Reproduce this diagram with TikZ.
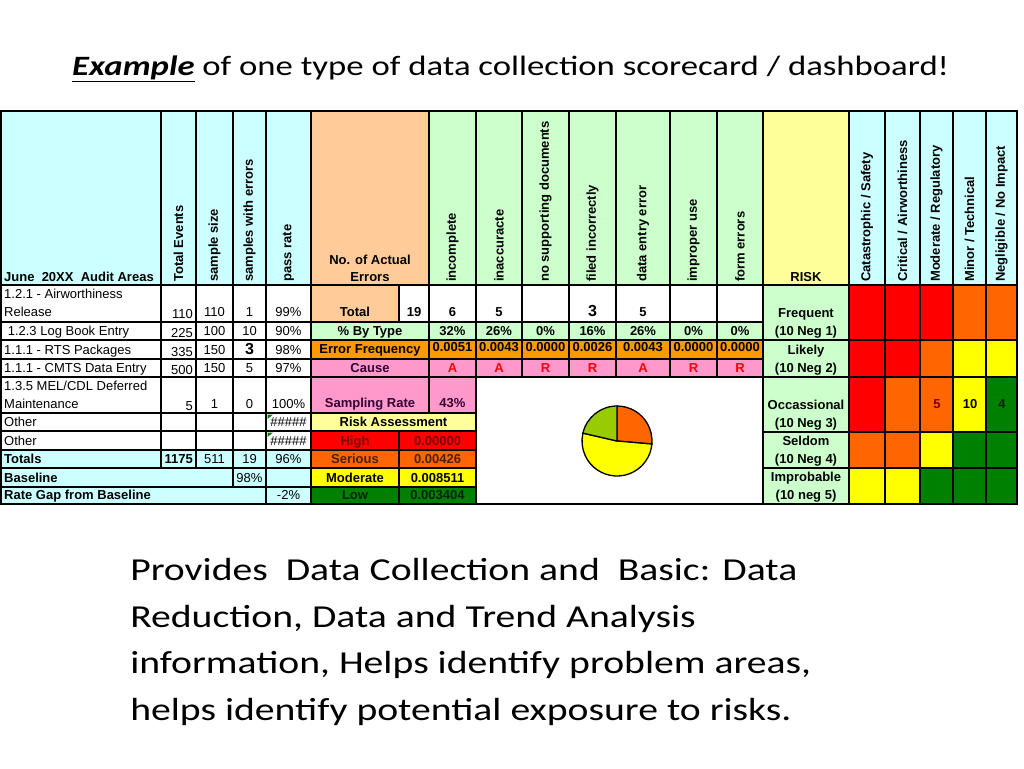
\documentclass[tikz,border=0pt]{standalone}
\usepackage{fontspec}
\setmainfont{Carlito}
\newfontfamily\xlfont{Liberation Sans}
\usetikzlibrary{positioning,calc}

\definecolor{hdrcyan}{HTML}{CCFFFF}
\definecolor{errpeach}{HTML}{FFCC99}
\definecolor{typegreen}{HTML}{CCFFCC}
\definecolor{riskyellow}{HTML}{FFFF99}
\definecolor{freqorange}{HTML}{FF9900}
\definecolor{causepink}{HTML}{FF99CC}
\definecolor{hired}{HTML}{FF0000}
\definecolor{serorange}{HTML}{FF6600}
\definecolor{modyellow}{HTML}{FFFF00}
\definecolor{lowgreen}{HTML}{008000}
\definecolor{piegreen}{HTML}{99CC00}
\definecolor{hitext}{HTML}{7A0000}
\definecolor{sertext}{HTML}{4A2000}
\definecolor{lowtext}{HTML}{002200}
\definecolor{causetext}{HTML}{330033}

\newcommand\bigthree{{\fontsize{16}{16}\selectfont\bfseries 3}}

\begin{document}
\begin{tikzpicture}[x=1pt, y=-1pt,
  cellline/.style={draw=black, line width=1.3pt},
  celltxt/.style={font=\xlfont\fontsize{13}{15}\selectfont, inner sep=0pt},
  cellbold/.style={font=\xlfont\bfseries\fontsize{13}{15}\selectfont, inner sep=0pt},
  vhead/.style={cellbold, rotate=90, anchor=west},
  slide/.style={font=\fontsize{32}{46}\selectfont, inner sep=0pt, anchor=base west, xscale=1.24}]
  \useasboundingbox (0,0) rectangle (1024,768);

  % Title
  \node[inner sep=0pt, anchor=base west, xscale=1.24, font=\fontsize{28}{32}\selectfont] (title) at (72,75)
      {\underline{\textbf{\textit{Example}}} of one type of data collection scorecard / dashboard!};

  % Fills of the colour blocks
  \fill[hdrcyan] (1,111) rectangle (311,285);
  \fill[hdrcyan] (1,450) rectangle (311,504);
  \fill[errpeach] (311,111) rectangle (429,285);
  \fill[typegreen] (429,111) rectangle (763,285);
  \fill[riskyellow] (763,111) rectangle (849,285);
  \fill[hdrcyan] (849,111) rectangle (1017,285);
  \fill[errpeach] (311,285) rectangle (399,322);
  \fill[typegreen] (311,322) rectangle (763,340);
  \fill[freqorange] (311,340) rectangle (763,359);
  \fill[causepink] (311,359) rectangle (763,377);
  \fill[causepink] (311,377) rectangle (476,413);
  \fill[riskyellow] (311,413) rectangle (476,431);
  \fill[typegreen] (763,285) rectangle (849,504);

  % Header grid
  \foreach \a/\b in {1/161,161/196,196/233,233/266,266/311,311/429,429/476,476/522,522/569,
                     569/616,616/670,670/717,717/763,763/849,849/885,885/920,920/953,953/986,986/1017}
      \draw[cellline] (\a,111) rectangle (\b,285);

  % Left body grid
  \foreach \ya/\yb in {285/322,322/340,340/359,359/377,377/413,413/431,431/450,450/468}
      \foreach \a/\b in {1/161,161/196,196/233,233/266,266/311}
          \draw[cellline] (\a,\ya) rectangle (\b,\yb);
  \draw[cellline] (1,468) rectangle (233,487);
  \draw[cellline] (233,468) rectangle (266,487);
  \draw[cellline] (266,468) rectangle (311,487);
  \draw[cellline] (1,487) rectangle (266,504);
  \draw[cellline] (266,487) rectangle (311,504);
  \fill[lowgreen] (267.5,414.5) -- (273,414.5) -- (267.5,419) -- cycle;
  \fill[lowgreen] (267.5,432.5) -- (273,432.5) -- (267.5,437) -- cycle;

  % Middle grid
  \foreach \a/\b in {311/399,399/429,429/476,476/522,522/569,569/616,616/670,670/717,717/763}
      \draw[cellline] (\a,285) rectangle (\b,322);
  \foreach \ya/\yb in {322/340,340/359,359/377}
      \foreach \a/\b in {311/429,429/476,476/522,522/569,569/616,616/670,670/717,717/763}
          \draw[cellline] (\a,\ya) rectangle (\b,\yb);
  \draw[cellline] (311,377) rectangle (429,413);
  \draw[cellline] (429,377) rectangle (476,413);
  \draw[cellline] (311,413) rectangle (476,431);
  \draw[cellline] (476,377) rectangle (763,504);

  % Risk levels
  \foreach \ya/\yb/\col/\lab/\val/\tc [count=\i] in {431/450/hired/High/0.00000/hitext,
          450/468/serorange/Serious/0.00426/sertext, 468/487/modyellow/Moderate/0.008511/black,
          487/504/lowgreen/Low/0.003404/lowtext} {
      \filldraw[cellline, fill=\col] (311,\ya) rectangle (399,\yb);
      \filldraw[cellline, fill=\col] (399,\ya) rectangle (476,\yb);
      \node[cellbold, text=\tc, anchor=base] (lvl-\i) at (355,\yb-5) {\lab};
      \node[cellbold, text=\tc, anchor=base] (lvlval-\i) at (437.5,\yb-5) {\val};
  }

  % Risk matrix
  \foreach \ya/\yb/\ca/\cb/\cc/\cd/\ce/\top/\bot [count=\i] in {
          285/340/hired/hired/hired/serorange/serorange/Frequent/{(10 Neg 1)},
          340/377/hired/hired/serorange/modyellow/modyellow/Likely/{(10 Neg 2)},
          377/432/hired/serorange/serorange/modyellow/lowgreen/Occassional/{(10 Neg 3)},
          432/468/serorange/serorange/modyellow/lowgreen/lowgreen/Seldom/{(10 Neg 4)},
          468/504/modyellow/modyellow/lowgreen/lowgreen/lowgreen/Improbable/{(10 neg 5)}} {
      \draw[cellline] (763,\ya) rectangle (849,\yb);
      \filldraw[cellline, fill=\ca] (849,\ya) rectangle (885,\yb);
      \filldraw[cellline, fill=\cb] (885,\ya) rectangle (920,\yb);
      \filldraw[cellline, fill=\cc] (920,\ya) rectangle (953,\yb);
      \filldraw[cellline, fill=\cd] (953,\ya) rectangle (986,\yb);
      \filldraw[cellline, fill=\ce] (986,\ya) rectangle (1017,\yb);
      \node[cellbold, anchor=base] (freq-\i) at (806,\yb-23) {\top};
      \node[cellbold, anchor=base] (neg-\i) at (806,\yb-5) {\bot};
  }
  \node[cellbold, text=hitext, anchor=base] (hits-a) at (937,408) {5};
  \node[cellbold, anchor=base] (hits-b) at (970,408) {10};
  \node[cellbold, text=lowtext, anchor=base] (hits-c) at (1002,408) {4};

  % Outer frame
  \draw[line width=2pt] (1,111) rectangle (1017,504);

  % Header texts
  \node[cellbold, anchor=base west] (areas) at (4,281) {June\ \ 20XX\ \ Audit Areas};
  \foreach \x/\txt [count=\i] in {178.5/Total Events, 214.5/sample size, 249.5/samples with errors,
          288.5/pass rate, 452.5/incomplete, 499/inaccuracte, 545.5/no supporting documents,
          592.5/filed incorrectly, 643/data entry error, 693.5/improper use, 740/form errors,
          867/{Catastrophic / Safety}, 902.5/{Critical / Airworthiness}, 936.5/{Moderate / Regulatory},
          969.5/{Minor / Technical}, 1001.5/{Negligible / No Impact}}
      \node[vhead] (head-\i) at (\x,282) {\txt};
  \node[cellbold, anchor=base] (actual) at (370,264) {No. of Actual};
  \node[cellbold, anchor=base] (errors) at (370,281) {Errors};
  \node[cellbold, anchor=base] (risk) at (806,281) {RISK};

  % Audit area rows
  \node[celltxt, anchor=base west] (lab-top1) at (4,298) {1.2.1 - Airworthiness};
  \node[celltxt, anchor=base west] (lab-top5) at (4,390) {1.3.5 MEL/CDL Deferred};
  \foreach \yb/\lab/\te/\ss/\se/\pr [count=\i] in {316/Release/110/110/1/99\%,
          335/{\ 1.2.3 Log Book Entry}/225/100/10/90\%,
          354/{1.1.1 - RTS Packages}/335/150/{\bigthree}/98\%,
          372/{1.1.1 - CMTS Data Entry}/500/150/5/97\%,
          408/Maintenance/5/1/0/100\%,
          426/Other/{}/{}/{}/\#\#\#\#\#,
          445/Other/{}/{}/{}/\#\#\#\#\#} {
      \node[celltxt, anchor=base west] (lab-\i) at (4,\yb) {\lab};
      \node[celltxt, anchor=base east] (te-\i) at (193,\yb+2) {\te};
      \node[celltxt, anchor=base] (ss-\i) at (214.5,\yb) {\ss};
      \node[celltxt, anchor=base] (se-\i) at (249.5,\yb) {\se};
      \node[celltxt, anchor=base] (pr-\i) at (288.5,\yb) {\pr};
  }
  \node[cellbold, anchor=base west] (totals) at (4,463) {Totals};
  \node[cellbold, anchor=base east] (te-sum) at (193,463) {1175};
  \node[celltxt, anchor=base] (ss-sum) at (214.5,463) {511};
  \node[celltxt, anchor=base] (se-sum) at (249.5,463) {19};
  \node[celltxt, anchor=base] (pr-sum) at (288.5,463) {96\%};
  \node[cellbold, anchor=base west] (baseline) at (4,482) {Baseline};
  \node[celltxt, anchor=base] (base-val) at (249.5,482) {98\%};
  \node[cellbold, anchor=base west] (gap) at (4,499) {Rate Gap from Baseline};
  \node[celltxt, anchor=base] (gap-val) at (288.5,499) {-2\%};

  % Error type rows
  \node[cellbold, anchor=base] (total) at (355,316) {Total};
  \node[cellbold, anchor=base] (total-val) at (414,316) {19};
  \node[cellbold, anchor=base] (bytype) at (370,335) {\% By Type};
  \node[cellbold, anchor=base] (errfreq) at (370,353) {Error Frequency};
  \node[cellbold, text=causetext, anchor=base] (cause) at (370,372) {Cause};
  \node[cellbold, text=causetext, anchor=base] (samprate) at (370,407) {Sampling Rate};
  \node[cellbold, text=causetext, anchor=base] (samp-val) at (452.5,407) {43\%};
  \node[cellbold, anchor=base] (assess) at (393.5,426) {Risk Assessment};
  \foreach \x/\n/\p/\f/\c [count=\i] in {452.5/6/32/0.0051/A, 499/5/26/0.0043/A, 545.5/{}/0/0.0000/R,
          592.5/{\bigthree}/16/0.0026/R, 643/5/26/0.0043/A, 693.5/{}/0/0.0000/R, 740/{}/0/0.0000/R} {
      \node[cellbold, anchor=base] (cnt-\i) at (\x,316) {\n};
      \node[cellbold, anchor=base] (pct-\i) at (\x,335) {\p\%};
      \node[cellbold, anchor=base] (fq-\i) at (\x,351) {\f};
      \node[cellbold, text=red, anchor=base] (cs-\i) at (\x,372) {\c};
  }

  % Pie chart
  \begin{scope}[shift={(617,441)}, y=1pt]
    \filldraw[fill=serorange, line width=1.3pt] (0,0) -- (90:35) arc[start angle=90, end angle=-5, radius=35] -- cycle;
    \filldraw[fill=modyellow, line width=1.3pt] (0,0) -- (-5:35) arc[start angle=-5, end angle=-193, radius=35] -- cycle;
    \filldraw[fill=piegreen, line width=1.3pt] (0,0) -- (167:35) arc[start angle=167, end angle=90, radius=35] -- cycle;
  \end{scope}

  % Slide text
  \node[slide] (line-1) at (130,580) {Provides\ \ Data Collection and\ \ Basic: Data};
  \node[slide] (line-2) at (130,627) {Reduction, Data and Trend Analysis};
  \node[slide] (line-3) at (130,673) {information, Helps identify problem areas,};
  \node[slide] (line-4) at (130,720) {helps identify potential exposure to risks.};
\end{tikzpicture}
\end{document}
